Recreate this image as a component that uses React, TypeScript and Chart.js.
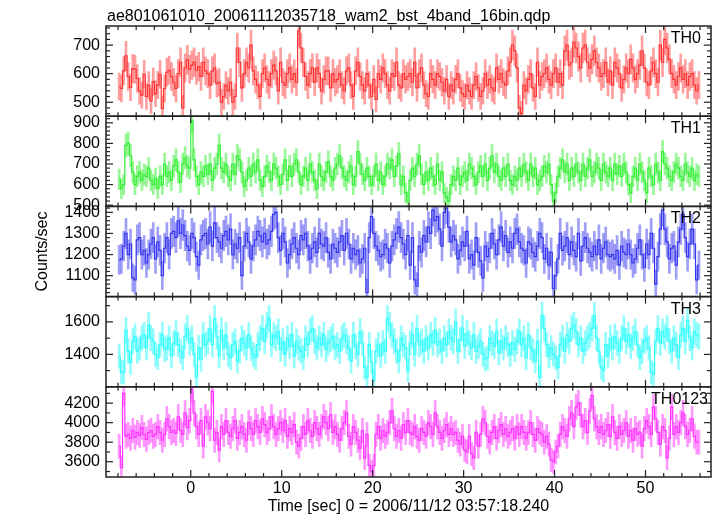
import React, { useEffect, useRef } from 'react';
import { Chart, registerables } from 'chart.js';

Chart.register(...registerables);

const TITLE = 'ae801061010_20061112035718_wam2_bst_4band_16bin.qdp';
const X_TITLE = 'Time [sec] 0 = 2006/11/12 03:57:18.240';
const Y_TITLE = 'Counts/sec';

// time bins (sec), centre of first bin and bin width
const BIN_START = -7.875;
const BIN_WIDTH = 0.25;

const X_MIN = -9.32;
const X_MAX = 57.2;
const X_TICKS = [0, 10, 20, 30, 40, 50];

const BAND_NAMES = ['TH0', 'TH1', 'TH2', 'TH3', 'TH0123'];

// counts/sec per bin, 16 bins (4 s) per row
const TH0_RATE = [
  555, 548, 610, 662, 590, 552, 618, 615, 583, 540, 525, 598, 520, 560, 505, 572,
  530, 560, 598, 478, 548, 605, 612, 590, 570, 548, 600, 640, 480, 620, 648, 615,
  630, 640, 612, 625, 590, 640, 610, 600, 560, 610, 620, 565, 570, 500, 520, 560,
  540, 570, 500, 520, 690, 640, 550, 600, 640, 620, 700, 610, 580, 560, 520, 600,
  620, 580, 560, 600, 630, 610, 540, 640, 570, 560, 600, 620, 580, 600, 570, 750,
  690, 640, 590, 560, 600, 620, 570, 620, 600, 540, 580, 610, 610, 550, 600, 570,
  580, 600, 560, 540, 610, 620, 560, 520, 610, 640, 590, 560, 540, 600, 560, 520,
  580, 510, 600, 580, 620, 600, 560, 540, 600, 590, 640, 560, 550, 600, 580, 590,
  600, 570, 640, 550, 600, 620, 560, 530, 520, 600, 580, 560, 600, 590, 570, 540,
  580, 520, 560, 540, 580, 600, 550, 530, 520, 560, 540, 520, 560, 590, 550, 520,
  540, 600, 560, 580, 550, 540, 620, 580, 600, 570, 560, 610, 640, 700, 680, 620,
  480, 460, 560, 540, 580, 600, 550, 520, 640, 560, 590, 600, 620, 580, 560, 600,
  620, 570, 600, 560, 680, 700, 630, 640, 710, 690, 660, 620, 690, 700, 640, 620,
  650, 680, 640, 620, 590, 600, 640, 570, 610, 560, 640, 620, 600, 550, 580, 620,
  600, 650, 620, 580, 600, 630, 680, 620, 570, 560, 610, 640, 600, 570, 700, 640,
  720, 690, 650, 600, 580, 560, 590, 620, 580, 600, 560, 590, 600, 560, 540, 560,
];

const TH1_RATE = [
  625, 580, 600, 790, 800, 740, 660, 600, 640, 660, 620, 650, 640, 680, 620, 600,
  630, 580, 640, 600, 700, 640, 660, 620, 690, 720, 660, 610, 700, 730, 690, 680,
  910, 720, 640, 600, 660, 640, 690, 650, 700, 620, 680, 700, 790, 680, 660, 700,
  640, 620, 700, 650, 740, 720, 660, 590, 620, 680, 640, 700, 660, 720, 620, 590,
  640, 690, 660, 620, 700, 680, 640, 600, 650, 720, 620, 690, 640, 700, 720, 660,
  600, 640, 680, 620, 700, 660, 620, 580, 700, 640, 620, 660, 710, 640, 620, 680,
  700, 740, 680, 640, 620, 660, 690, 600, 640, 760, 700, 650, 620, 680, 640, 600,
  640, 700, 620, 660, 600, 640, 700, 680, 720, 640, 690, 750, 600, 640, 560, 520,
  620, 680, 640, 700, 740, 650, 600, 660, 620, 680, 640, 600, 700, 620, 660, 560,
  540, 520, 600, 640, 620, 680, 600, 640, 660, 620, 700, 680, 640, 600, 660, 690,
  640, 700, 620, 680, 740, 660, 700, 640, 620, 680, 640, 700, 620, 600, 640, 620,
  680, 640, 700, 660, 620, 700, 640, 680, 600, 620, 640, 690, 660, 700, 600, 520,
  560, 640, 680, 720, 660, 700, 620, 680, 640, 700, 660, 620, 700, 640, 680, 720,
  640, 660, 700, 680, 620, 700, 660, 640, 680, 620, 700, 650, 690, 640, 700, 660,
  600, 560, 640, 680, 620, 700, 660, 620, 560, 680, 640, 600, 700, 660, 620, 760,
  700, 680, 640, 620, 660, 700, 680, 640, 620, 700, 660, 640, 680, 620, 650, 640,
];

const TH2_RATE = [
  1175, 1180, 1240, 1300, 1200, 1250, 1090, 1080, 1270, 1280, 1200, 1220, 1160, 1200, 1250, 1280,
  1180, 1260, 1220, 1100, 1230, 1280, 1200, 1300, 1310, 1280, 1360, 1300, 1340, 1290, 1240, 1220,
  1300, 1280, 1190, 1150, 1270, 1290, 1300, 1250, 1330, 1240, 1350, 1280, 1260, 1230, 1290, 1310,
  1270, 1320, 1200, 1250, 1230, 1280, 1100, 1240, 1300, 1260, 1180, 1240, 1270, 1310, 1290, 1260,
  1300, 1250, 1270, 1310, 1390, 1400, 1280, 1220, 1300, 1260, 1160, 1200, 1250, 1280, 1230, 1200,
  1290, 1270, 1300, 1240, 1180, 1230, 1260, 1210, 1300, 1250, 1240, 1280, 1210, 1180, 1250, 1230,
  1210, 1260, 1290, 1220, 1300, 1250, 1180, 1230, 1200, 1220, 1160, 1180, 1230, 1020, 1280, 1380,
  1300, 1240, 1220, 1190, 1200, 1250, 1230, 1160, 1240, 1270, 1300, 1330, 1280, 1250, 1200, 1290,
  1150, 1280, 1080, 1050, 1240, 1210, 1290, 1260, 1330, 1300, 1410, 1360, 1380, 1320, 1240, 1400,
  1420, 1330, 1260, 1290, 1270, 1180, 1220, 1260, 1240, 1310, 1180, 1200, 1150, 1280, 1210, 1170,
  1090, 1240, 1190, 1230, 1300, 1250, 1200, 1270, 1330, 1240, 1290, 1210, 1260, 1230, 1300, 1320,
  1260, 1230, 1220, 1160, 1260, 1250, 1210, 1190, 1240, 1300, 1280, 1180, 1230, 1150, 1210, 1040,
  1100, 1180, 1300, 1220, 1240, 1280, 1200, 1260, 1220, 1190, 1300, 1170, 1240, 1280, 1230, 1210,
  1190, 1240, 1200, 1270, 1180, 1230, 1260, 1200, 1190, 1200, 1180, 1220, 1150, 1240, 1210, 1200,
  1250, 1200, 1160, 1180, 1230, 1270, 1200, 1140, 1250, 1200, 1300, 1230, 1060, 1190, 1320, 1410,
  1320, 1260, 1180, 1230, 1240, 1150, 1260, 1320, 1390, 1280, 1190, 1250, 1320, 1250, 1080, 1150,
];

const TH3_RATE = [
  1390, 1290, 1290, 1550, 1420, 1350, 1480, 1510, 1420, 1440, 1500, 1520, 1440, 1580, 1500, 1480,
  1400, 1380, 1460, 1520, 1430, 1440, 1500, 1390, 1470, 1530, 1460, 1420, 1380, 1510, 1560, 1470,
  1500, 1400, 1260, 1440, 1370, 1520, 1460, 1480, 1560, 1460, 1620, 1510, 1390, 1550, 1440, 1520,
  1400, 1380, 1460, 1480, 1360, 1420, 1500, 1470, 1440, 1520, 1440, 1400, 1380, 1460, 1500, 1560,
  1480, 1580, 1620, 1460, 1520, 1500, 1540, 1430, 1480, 1400, 1500, 1450, 1520, 1390, 1480, 1440,
  1420, 1380, 1500, 1460, 1540, 1560, 1480, 1440, 1500, 1460, 1520, 1430, 1470, 1490, 1510, 1440,
  1460, 1420, 1500, 1520, 1480, 1440, 1360, 1520, 1450, 1400, 1540, 1470, 1320, 1260, 1460, 1350,
  1240, 1420, 1460, 1390, 1470, 1420, 1620, 1580, 1520, 1480, 1420, 1360, 1500, 1460, 1440, 1300,
  1470, 1520, 1400, 1560, 1460, 1480, 1420, 1500, 1440, 1520, 1470, 1550, 1460, 1480, 1420, 1500,
  1460, 1540, 1500, 1480, 1600, 1420, 1490, 1560, 1450, 1530, 1470, 1440, 1520, 1420, 1450, 1480,
  1400, 1370, 1380, 1500, 1470, 1450, 1540, 1410, 1480, 1440, 1500, 1460, 1400, 1470, 1430, 1480,
  1540, 1460, 1500, 1380, 1520, 1440, 1420, 1360, 1480, 1260, 1640, 1560, 1460, 1390, 1440, 1400,
  1380, 1320, 1460, 1500, 1420, 1520, 1480, 1560, 1580, 1540, 1460, 1500, 1420, 1470, 1500, 1520,
  1560, 1640, 1500, 1420, 1320, 1300, 1460, 1390, 1500, 1440, 1510, 1470, 1420, 1500, 1560, 1480,
  1520, 1450, 1500, 1540, 1460, 1380, 1420, 1480, 1500, 1440, 1290, 1280, 1480, 1560, 1470, 1540,
  1510, 1560, 1480, 1420, 1500, 1460, 1380, 1520, 1560, 1480, 1610, 1500, 1440, 1540, 1520, 1510,
];

const TH0123_RATE = [
  3760, 3540, 4300, 3860, 3880, 3840, 3920, 3850, 3900, 3870, 3950, 3880, 3830, 3900, 3920, 3860,
  3880, 3960, 3900, 3820, 3880, 4040, 3960, 3900, 3920, 3890, 4060, 3920, 3880, 4100, 3950, 4020,
  4340, 4100, 3960, 3880, 4020, 3760, 4060, 4000, 3940, 4320, 3820, 3900, 3720, 3960, 3880, 4020,
  3900, 3860, 3940, 4020, 3840, 3900, 3960, 3880, 3820, 4000, 3940, 3880, 4020, 3960, 3900, 4040,
  3980, 3900, 3940, 4060, 3960, 3880, 3940, 4000, 3920, 4020, 3860, 3940, 3900, 3980, 3800, 3760,
  3840, 3960, 3880, 4020, 3920, 3860, 4000, 3940, 3880, 3960, 4060, 4000, 3940, 4080, 3900, 3960,
  3880, 3820, 3940, 4000, 4100, 3860, 3780, 3960, 3900, 3820, 3740, 3920, 3640, 3880, 3560, 3500,
  3560, 3880, 3960, 3840, 3920, 3860, 3900, 4000, 4120, 3940, 3860, 3920, 3840, 3980, 3900, 4020,
  3900, 3880, 3960, 3860, 3820, 3940, 3900, 3860, 4000, 3960, 3880, 4100, 3960, 3900, 3840, 3920,
  3980, 3880, 3940, 3880, 3900, 3820, 3780, 3860, 3720, 3700, 3860, 3680, 3640, 3900, 3760, 3880,
  4040, 4000, 3860, 3800, 3900, 3960, 3840, 3920, 3980, 3880, 3940, 3860, 3900, 3940, 3840, 3960,
  3880, 3960, 3900, 3840, 3900, 4000, 3880, 3820, 3940, 3900, 3880, 3800, 3860, 3780, 3620, 3600,
  3700, 3760, 3880, 3960, 3920, 3860, 4040, 4100, 3960, 4160, 4200, 4080, 3960, 4020, 3900, 4120,
  4280, 4040, 3960, 3900, 3960, 3880, 3920, 3980, 3860, 4060, 3900, 3840, 3960, 3880, 3920, 4000,
  3860, 3920, 3820, 3940, 3880, 3900, 3760, 3940, 4020, 3960, 3880, 4160, 4040, 3900, 3780, 3960,
  3920, 3640, 3840, 4160, 3880, 3960, 3900, 4000, 4100, 3960, 3880, 3920, 4040, 3860, 3800, 3800,
];

// axis ranges and labelled ticks of each panel
const Y_MIN = [451, 494, 1001, 1200, 3444];
const Y_MAX = [767, 932, 1428, 1756, 4367];
const Y_TICKS_TH0 = [500, 600, 700];
const Y_TICKS_TH1 = [500, 600, 700, 800, 900];
const Y_TICKS_TH2 = [1100, 1200, 1300, 1400];
const Y_TICKS_TH3 = [1400, 1600];
const Y_TICKS_TH0123 = [3600, 3800, 4000, 4200];
const Y_MINOR_STEP = [20, 20, 20, 100, 100];

const SERIES = [TH0_RATE, TH1_RATE, TH2_RATE, TH3_RATE, TH0123_RATE];
const Y_TICKS = [Y_TICKS_TH0, Y_TICKS_TH1, Y_TICKS_TH2, Y_TICKS_TH3, Y_TICKS_TH0123];

const LINE_COLORS = ['#ff3333', '#33f033', '#3535f0', '#33ffff', '#ff33ff'];
const BAR_COLORS = [
  'rgba(255,80,80,0.55)',
  'rgba(70,240,70,0.55)',
  'rgba(80,80,240,0.55)',
  'rgba(60,250,250,0.55)',
  'rgba(255,70,255,0.55)',
];
const LABEL_RIGHT = [701, 701, 701, 701, 708];
const FONT = '"Liberation Sans", Arial, Helvetica, sans-serif';

const decorPlugin = {
  id: 'qdpDecor',
  afterDraw(chart: any) {
    const ctx = chart.ctx as CanvasRenderingContext2D;
    const xs = chart.scales.x;
    ctx.save();
    ctx.strokeStyle = '#222';
    const line = (x1: number, y1: number, x2: number, y2: number) => {
      ctx.beginPath();
      ctx.moveTo(x1, y1);
      ctx.lineTo(x2, y2);
      ctx.stroke();
    };
    for (let k = 0; k < SERIES.length; k++) {
      const ys = chart.scales['y' + k];
      const top = ys.top;
      const bottom = ys.bottom;
      const left = xs.left;
      const right = xs.right;
      ctx.lineWidth = 1.5;
      ctx.strokeRect(left, top, right - left, bottom - top);
      ctx.lineWidth = 1.2;
      // x ticks (major every 10, minor every 2)
      for (let n = Math.ceil(xs.min / 2); n * 2 <= xs.max; n++) {
        const v = n * 2;
        const px = xs.getPixelForValue(v);
        const len = v % 10 === 0 ? 7 : 4;
        line(px, top, px, top + len);
        line(px, bottom, px, bottom - len);
      }
      // y ticks
      const step = Y_MINOR_STEP[k];
      for (let n = Math.ceil(ys.min / step); n * step <= ys.max; n++) {
        const v = n * step;
        const py = ys.getPixelForValue(v);
        const len = Y_TICKS[k].includes(v) ? 7 : 4;
        line(left, py, left + len, py);
        line(right, py, right - len, py);
      }
      ctx.fillStyle = '#000';
      ctx.font = '16px ' + FONT;
      ctx.textAlign = 'right';
      ctx.textBaseline = 'alphabetic';
      ctx.fillText(BAND_NAMES[k], LABEL_RIGHT[k], top + 17);
    }
    ctx.fillStyle = '#000';
    ctx.font = '16px ' + FONT;
    ctx.textAlign = 'left';
    ctx.textBaseline = 'alphabetic';
    ctx.fillText(TITLE, 107, 21);
    ctx.restore();
  },
};

export default function App() {
  const ref = useRef<HTMLCanvasElement>(null);

  useEffect(() => {
    const canvas = ref.current;
    if (!canvas) return;
    Chart.defaults.font.family = FONT;
    Chart.defaults.font.size = 16;
    Chart.defaults.color = '#000';

    const datasets: any[] = [];
    SERIES.forEach((vals, k) => {
      const pts = vals.map((v, i) => ({ x: BIN_START + i * BIN_WIDTH, y: v }));
      datasets.push({
        type: 'line',
        label: BAND_NAMES[k],
        xAxisID: 'x',
        yAxisID: 'y' + k,
        data: pts,
        borderColor: LINE_COLORS[k],
        borderWidth: 1.2,
        pointRadius: 0,
        stepped: 'middle',
        fill: false,
        order: 0,
      });
      datasets.push({
        type: 'bar',
        label: BAND_NAMES[k] + ' err',
        xAxisID: 'x',
        yAxisID: 'y' + k,
        data: pts.map((p) => {
          const e = Math.sqrt(p.y / BIN_WIDTH);
          return { x: p.x, y: [p.y - e, p.y + e] };
        }),
        backgroundColor: BAR_COLORS[k],
        borderWidth: 0,
        barThickness: 2,
        grouped: false,
        order: 1,
      });
    });

    const plainLabel = (v: any) => String(v);

    const scales: any = {
      x: {
        type: 'linear',
        position: 'bottom',
        min: X_MIN,
        max: X_MAX,
        offset: false,
        grid: { display: false, drawTicks: false },
        border: { display: false },
        afterBuildTicks: (s: any) => {
          s.ticks = X_TICKS.map((v) => ({ value: v }));
        },
        afterFit: (s: any) => {
          s.height = 39;
        },
        ticks: {
          padding: 2,
          autoSkip: false,
          maxRotation: 0,
          color: '#000',
          font: { size: 16 },
          callback: plainLabel,
        },
        title: {
          display: true,
          text: X_TITLE,
          color: '#000',
          font: { size: 16 },
          padding: { top: 0, bottom: 0 },
        },
      },
    };
    SERIES.forEach((_, k) => {
      scales['y' + k] = {
        type: 'linear',
        position: 'left',
        stack: 'bands',
        stackWeight: 1,
        weight: 5 - k,
        min: Y_MIN[k],
        max: Y_MAX[k],
        offset: false,
        grid: { display: false, drawTicks: false },
        border: { display: false },
        afterBuildTicks: (s: any) => {
          s.ticks = Y_TICKS[k].map((v) => ({ value: v }));
        },
        afterFit: (s: any) => {
          s.width = 106;
        },
        ticks: { padding: 6, autoSkip: false, color: '#000', font: { size: 16 }, callback: plainLabel },
        title:
          k === 2
            ? {
                display: true,
                text: Y_TITLE,
                color: '#000',
                font: { size: 16 },
                padding: { top: 33, bottom: 0 },
              }
            : { display: false },
      };
    });

    const chart = new Chart(canvas, {
      type: 'line',
      data: { datasets },
      options: {
        responsive: false,
        animation: false,
        devicePixelRatio: 1,
        layout: { padding: { left: 0, top: 26, right: 6, bottom: 0 } },
        plugins: { legend: { display: false }, tooltip: { enabled: false }, title: { display: false } },
        scales,
      },
      plugins: [decorPlugin],
    } as any);

    return () => chart.destroy();
  }, []);

  return (
    <div style={{ position: 'absolute', left: 0, top: 0, width: 717, height: 516, background: '#fff' }}>
      <canvas ref={ref} width={717} height={516} style={{ display: 'block' }} />
    </div>
  );
}
